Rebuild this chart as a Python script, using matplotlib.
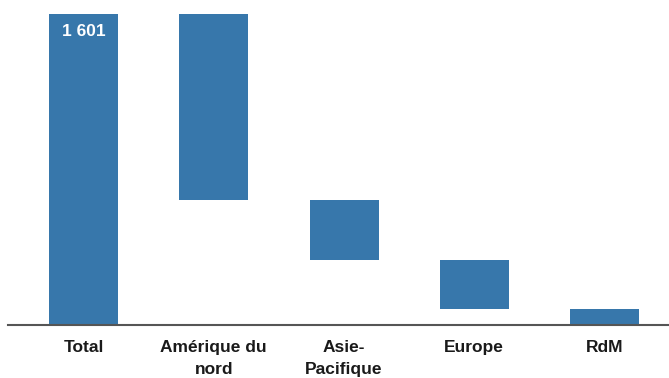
import matplotlib
matplotlib.use("Agg")
import matplotlib.pyplot as plt
from matplotlib import font_manager

categories = ["Total", "Amérique du\nnord", "Asie-\nPacifique", "Europe", "RdM"]
total = 1601
segments = [957, 311, 251, 82]
total_label = "1 601"

names = {f.name for f in font_manager.fontManager.ttflist}
fam = ["Liberation Sans Narrow", "DejaVu Sans"] if "Liberation Sans Narrow" in names else ["Liberation Sans", "DejaVu Sans"]
plt.rcParams["font.family"] = fam

color = "#3777ab"
fig = plt.figure(figsize=(6.69, 3.78), dpi=100)
ax = fig.add_axes([8/669, 1-325/378, 1-8/669, (325-14)/378])

heights = [total] + segments
bottoms = [0]
run = total
for s in segments:
    run -= s
    bottoms.append(run)
x = list(range(len(categories)))
ax.bar(x, heights, bottom=bottoms, width=0.53, color=color)
ax.text(0, total - 50, total_label, color="white", ha="center", va="top",
        fontsize=12.5, fontweight="bold")

ax.set_xlim(-0.58, 4.495)
ax.set_ylim(0, total)
for s in ["top", "right", "left"]:
    ax.spines[s].set_visible(False)
ax.spines["bottom"].set_color("#555555")
ax.spines["bottom"].set_linewidth(1.5)
ax.set_yticks([])
ax.set_xticks(x)
ax.set_xticklabels(categories, fontsize=12.5, fontweight="bold", color="#1a1a1a",
                   linespacing=1.55)
ax.tick_params(axis="x", length=0, pad=11)
fig.savefig("out.png", dpi=100)
